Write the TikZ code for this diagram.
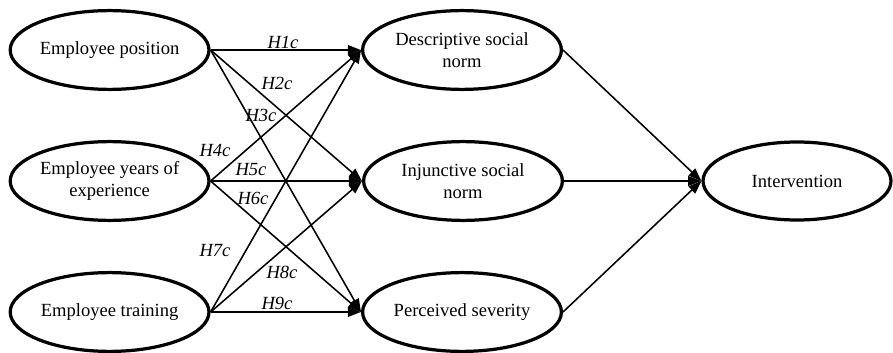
\documentclass[tikz,border=0pt]{standalone}
\usepackage{fontspec}
\setmainfont{Liberation Serif}
\usetikzlibrary{shapes.geometric,arrows.meta}

\begin{document}
\begin{tikzpicture}[
    latent/.style={ellipse, draw, line width=2.3pt, minimum width=4.97cm,
        minimum height=1.97cm, inner sep=0pt, align=center,
        font=\fontsize{13.2}{16}\selectfont},
    link/.style={-{Triangle[length=0.33cm,width=0.24cm]}, line width=1.1pt},
    hyp/.style={font=\fontsize{13.2}{16}\selectfont\itshape}
]
    \useasboundingbox (0,0) rectangle (22.325,8.8);

    % antecedents
    \node[latent] (pos) at (2.74,7.55) {Employee position};
    \node[latent] (yrs) at (2.74,4.275) {Employee years of\\experience};
    \node[latent] (trn) at (2.74,1.0) {Employee training};
    % mediators
    \node[latent] (desc) at (11.55,7.55) {Descriptive social\\norm};
    \node[latent] (inj) at (11.575,4.275) {Injunctive social\\norm};
    \node[latent] (sev) at (11.55,1.0) {Perceived severity};
    % outcome
    \node[latent, minimum width=4.7cm, minimum height=1.95cm] (int) at (19.925,4.275) {Intervention};

    % paths
    \foreach \a in {pos,yrs,trn}
        \foreach \b in {desc,inj,sev}
            \draw[link] (\a.east) -- (\b.west);
    \foreach \b in {desc,inj,sev}
        \draw[link] (\b.east) -- (int.west);

    % hypotheses
    \foreach \n/\x/\y in {1/7.075/7.75, 2/6.925/6.725, 3/6.525/5.925,
                          4/5.375/5.05, 5/6.275/4.55, 6/6.325/3.85,
                          7/5.375/2.525, 8/7.05/2.0, 9/6.925/1.225}
        \node[hyp] (h\n) at (\x,\y) {H\n c};
\end{tikzpicture}
\end{document}
